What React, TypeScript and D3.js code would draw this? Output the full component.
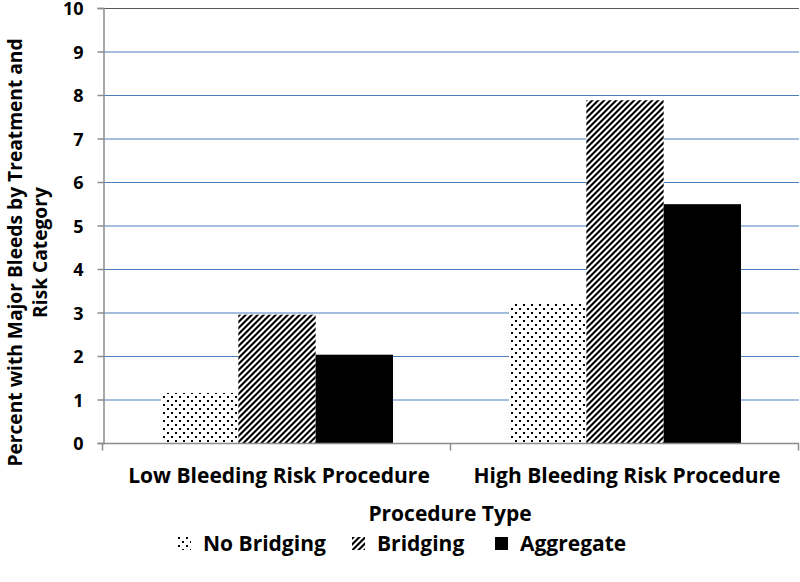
import { useEffect, useRef } from 'react'
import * as d3 from 'd3'

const categories = ['Low Bleeding Risk Procedure', 'High Bleeding Risk Procedure']
const seriesNames = ['No Bridging', 'Bridging', 'Aggregate']
const noBridging = [1.15, 3.2]
const bridging = [2.95, 7.88]
const aggregate = [2.03, 5.49]
const yTicks = [0, 1, 2, 3, 4, 5, 6, 7, 8, 9, 10]

const width = 800
const height = 582
const margin = { top: 8, right: 1, bottom: 139, left: 103 }
const font = "'Open Sans', 'Noto Sans', sans-serif"

export default function App() {
  const svgRef = useRef<SVGSVGElement>(null)

  useEffect(() => {
    if (!svgRef.current) return
    const svg = d3.select(svgRef.current)
    svg.selectAll('*').remove()

    const values = [noBridging, bridging, aggregate]
    const fills = ['url(#dots)', 'url(#stripes)', '#000']

    const x0 = d3.scaleBand()
      .domain(categories)
      .range([margin.left, width - margin.right])
      .paddingInner(0)
      .paddingOuter(0)
    const x1 = d3.scaleBand()
      .domain(seriesNames)
      .range([x0.bandwidth() / 6, x0.bandwidth() * 5 / 6])
      .padding(0)
    const y = d3.scaleLinear().domain([0, 10]).range([height - margin.bottom, margin.top])

    // patterns
    const defs = svg.append('defs')
    const dots = defs.append('pattern')
      .attr('id', 'dots')
      .attr('patternUnits', 'userSpaceOnUse')
      .attr('width', 8)
      .attr('height', 8)
    dots.append('rect').attr('width', 8).attr('height', 8).attr('fill', '#fff')
    dots.append('rect').attr('x', 0).attr('y', 0).attr('width', 2).attr('height', 2).attr('fill', '#000')
    dots.append('rect').attr('x', 4).attr('y', 4).attr('width', 2).attr('height', 2).attr('fill', '#000')

    // "/" stripes, 6px horizontal period, half black
    const stripes = defs.append('pattern')
      .attr('id', 'stripes')
      .attr('patternUnits', 'userSpaceOnUse')
      .attr('width', 6)
      .attr('height', 6)
    stripes.append('rect').attr('width', 6).attr('height', 6).attr('fill', '#fff')
    stripes.append('path')
      .attr('d', 'M0,6 L6,0 L6,3 L3,6 Z M0,3 L3,0 L0,0 Z')
      .attr('fill', '#000')

    // gridlines
    svg.append('g')
      .selectAll('line')
      .data(yTicks.filter(d => d > 0))
      .enter()
      .append('line')
      .attr('x1', margin.left)
      .attr('x2', width - margin.right)
      .attr('y1', d => y(d) + 0.5)
      .attr('y2', d => y(d) + 0.5)
      .attr('stroke', d => d === 10 ? '#595959' : '#4a7ebb')
      .attr('stroke-width', 1.2)

    // bars
    const groups = svg.append('g')
      .selectAll('g')
      .data(categories)
      .enter()
      .append('g')
      .attr('transform', d => `translate(${x0(d)},0)`)

    groups.selectAll('rect')
      .data((_, i) => seriesNames.map((s, j) => ({ s, j, v: values[j][i] })))
      .enter()
      .append('rect')
      .attr('x', d => x1(d.s) || 0)
      .attr('y', d => y(d.v))
      .attr('width', x1.bandwidth())
      .attr('height', d => y(0) - y(d.v))
      .attr('fill', d => fills[d.j])

    // axes
    const axisColor = '#8c8c8c'
    const yAxis = svg.append('g')
      .attr('transform', `translate(${margin.left + 0.5},0)`)
      .call(d3.axisLeft(y).tickValues(yTicks).tickSize(6).tickPadding(14).tickFormat(d3.format('d')))
    yAxis.select('.domain').attr('stroke', axisColor).attr('stroke-width', 1.5)
    yAxis.selectAll('.tick line').attr('stroke', axisColor).attr('stroke-width', 1.5)
    yAxis.selectAll('text')
      .attr('font-family', font)
      .attr('font-weight', 700)
      .attr('font-size', 18)
      .attr('dy', '0.38em')
      .attr('fill', '#000')

    const baseY = y(0) + 0.5
    svg.append('line')
      .attr('x1', margin.left)
      .attr('x2', width - margin.right)
      .attr('y1', baseY)
      .attr('y2', baseY)
      .attr('stroke', axisColor)
      .attr('stroke-width', 1.5)
    const xTickPos = [margin.left, ...categories.map(c => (x0(c) || 0) + x0.bandwidth())]
    svg.append('g')
      .selectAll('line')
      .data(xTickPos)
      .enter()
      .append('line')
      .attr('x1', d => d - 0.5)
      .attr('x2', d => d - 0.5)
      .attr('y1', baseY)
      .attr('y2', baseY + 7)
      .attr('stroke', axisColor)
      .attr('stroke-width', 1.5)

    svg.append('g')
      .selectAll('text')
      .data(categories)
      .enter()
      .append('text')
      .attr('x', d => (x0(d) || 0) + x0.bandwidth() / 2 + 2)
      .attr('y', 483)
      .attr('text-anchor', 'middle')
      .attr('font-family', font)
      .attr('font-weight', 700)
      .attr('font-size', 21)
      .text(d => d)

    svg.append('text')
      .attr('x', 450)
      .attr('y', 521)
      .attr('text-anchor', 'middle')
      .attr('font-family', font)
      .attr('font-weight', 700)
      .attr('font-size', 21)
      .text('Procedure Type')

    const yTitle = svg.append('text')
      .attr('transform', `translate(0,${(margin.top + y(0)) / 2 + 27}) rotate(-90)`)
      .attr('text-anchor', 'middle')
      .attr('font-family', font)
      .attr('font-weight', 700)
      .attr('font-size', 19.2)
    yTitle.append('tspan').attr('x', 0).attr('y', 22).text('Percent with Major Bleeds by Treatment and')
    yTitle.append('tspan').attr('x', 0).attr('y', 47).text('Risk Category')

    // legend
    const legendX = [178, 352, 495]
    const legend = svg.append('g')
      .selectAll('g')
      .data(seriesNames)
      .enter()
      .append('g')
      .attr('transform', (_, i) => `translate(${legendX[i]},537)`)
    legend.append('rect')
      .attr('width', 13)
      .attr('height', 13)
      .attr('fill', (_, i) => fills[i])
    legend.append('text')
      .attr('x', 25)
      .attr('y', 14)
      .attr('font-family', font)
      .attr('font-weight', 700)
      .attr('font-size', 21)
      .text(d => d)
  }, [])

  return <svg ref={svgRef} width={width} height={height} style={{ position: 'absolute', left: 0, top: 0, background: '#fff' }} />
}
